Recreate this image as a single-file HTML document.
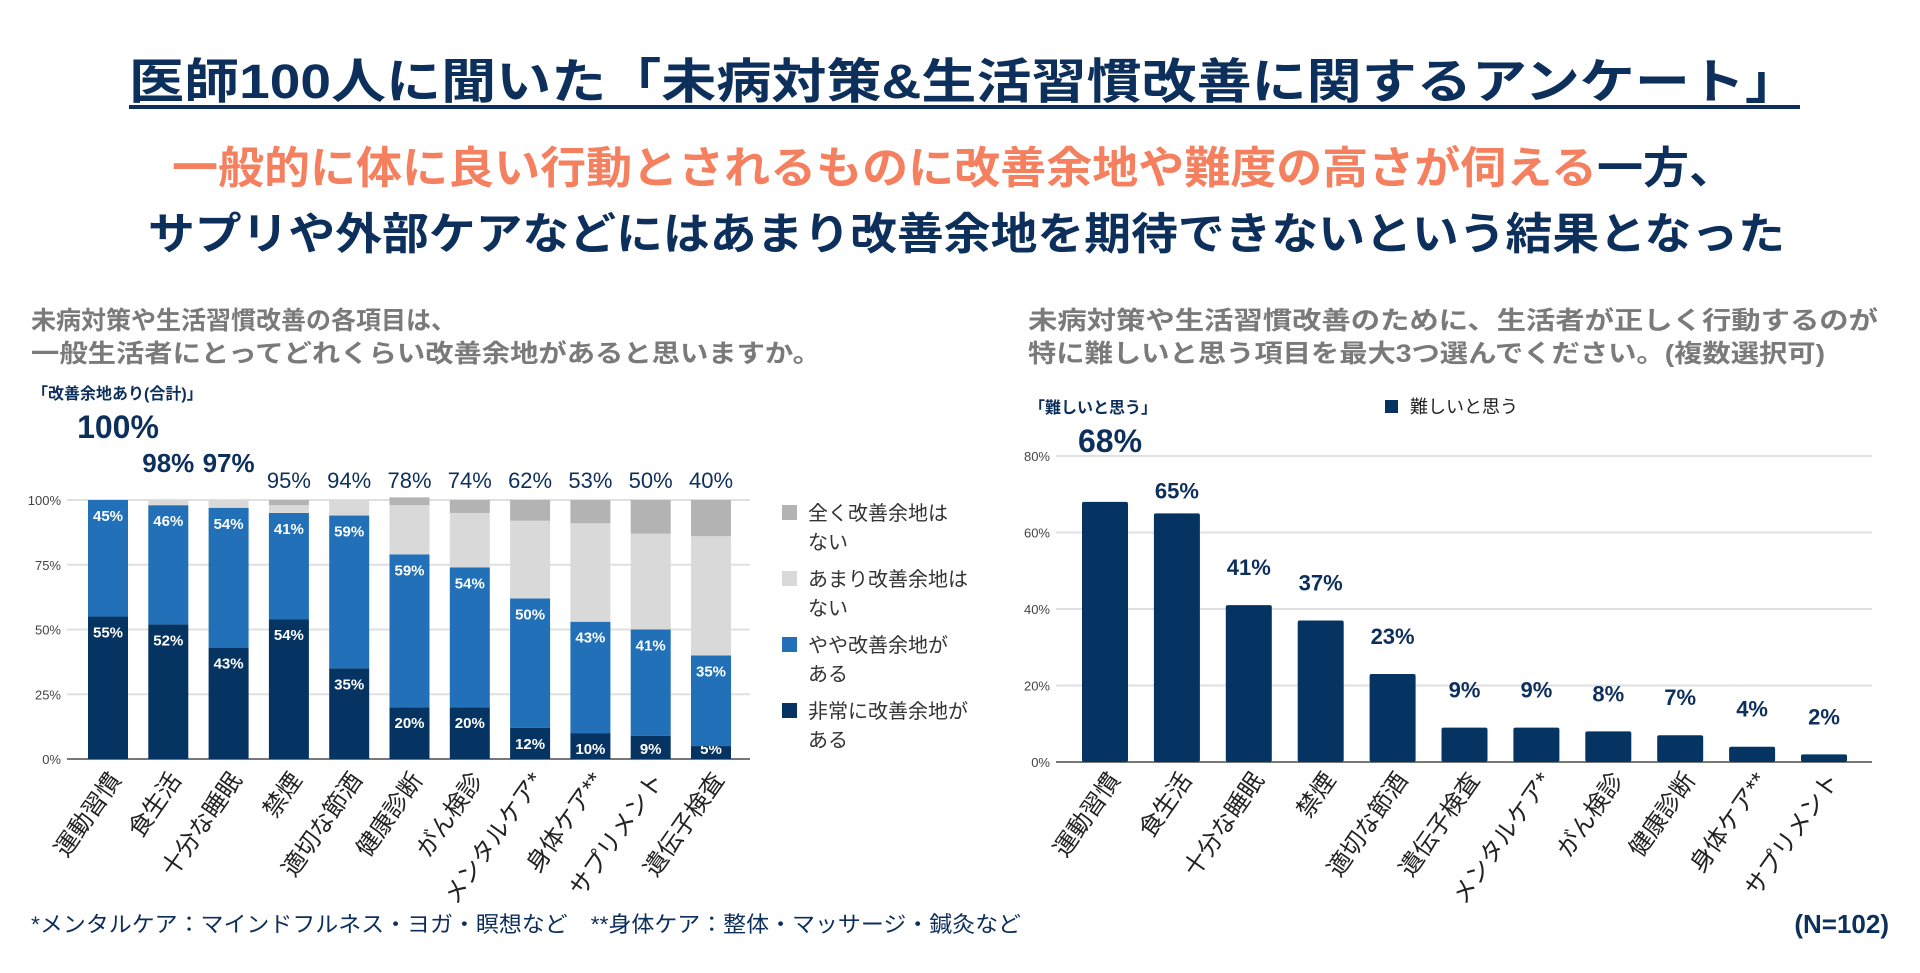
<!DOCTYPE html>
<html><head><meta charset="utf-8"><style>
html,body{margin:0;padding:0;background:#fff;}
svg{display:block;font-family:"Liberation Sans","Noto Sans CJK JP",sans-serif;}
</style></head><body>
<svg id="s" width="1920" height="973" viewBox="0 0 1920 973" xmlns="http://www.w3.org/2000/svg">
<text x="129" y="98" font-size="48" font-weight="700" fill="#0d2f5b" textLength="1671" lengthAdjust="spacingAndGlyphs">医師100人に聞いた「未病対策&amp;生活習慣改善に関するアンケート」</text>
<rect x="129" y="105" width="1671" height="4" fill="#0d2f5b"/>
<text x="172" y="183" font-size="44" font-weight="700" textLength="1563" lengthAdjust="spacingAndGlyphs"><tspan fill="#f4805f">一般的に体に良い行動とされるものに改善余地や難度の高さが伺える</tspan><tspan fill="#0d2f5b">一方、</tspan></text>
<text x="148" y="249" font-size="44" font-weight="700" fill="#0d2f5b" textLength="1637" lengthAdjust="spacingAndGlyphs">サプリや外部ケアなどにはあまり改善余地を期待できないという結果となった</text>
<text x="31" y="329" font-size="25" font-weight="700" fill="#7a7a7a">未病対策や生活習慣改善の各項目は、</text>
<text x="31" y="362" font-size="25" font-weight="700" fill="#7a7a7a" textLength="790" lengthAdjust="spacingAndGlyphs">一般生活者にとってどれくらい改善余地があると思いますか。</text>
<text x="1028" y="329" font-size="25" font-weight="700" fill="#7a7a7a" textLength="850" lengthAdjust="spacingAndGlyphs">未病対策や生活習慣改善のために、生活者が正しく行動するのが</text>
<text x="1028" y="362" font-size="25" font-weight="700" fill="#7a7a7a" textLength="797" lengthAdjust="spacingAndGlyphs">特に難しいと思う項目を最大3つ選んでください。(複数選択可)</text>
<text x="32" y="399" font-size="16" font-weight="700" fill="#0d2f5b">「改善余地あり(合計)」</text>
<text x="1029" y="413" font-size="16" font-weight="700" fill="#0d2f5b">「難しいと思う」</text>
<rect x="1385" y="400" width="13" height="13" fill="#063462"/>
<text x="1410" y="413" font-size="18" fill="#222">難しいと思う</text>
<text x="31" y="932" font-size="22" fill="#0d2f5b" textLength="990" lengthAdjust="spacingAndGlyphs">*メンタルケア：マインドフルネス・ヨガ・瞑想など　**身体ケア：整体・マッサージ・鍼灸など</text>
<text x="1889" y="933" font-size="26" font-weight="700" fill="#0d2f5b" text-anchor="end">(N=102)</text>
<g id="left"></g>
<g id="right"></g>
</svg>
<script>
const leftCats=["運動習慣","食生活","十分な睡眠","禁煙","適切な節酒","健康診断","がん検診","メンタルケア*","身体ケア**","サプリメント","遺伝子検査"];
const veryMuch=[55,52,43,54,35,20,20,12,10,9,5];
const somewhat=[45,46,54,41,59,59,54,50,43,41,35];
const notMuch=[0,2,3,3,6,19,21,30,38,37,46];
const notAtAll=[0,0,0,2,0,3,5,8,9,13,14];
const totals=["100%","98%","97%","95%","94%","78%","74%","62%","53%","50%","40%"];
const leftTicks=[0,25,50,75,100];
const rightCats=["運動習慣","食生活","十分な睡眠","禁煙","適切な節酒","遺伝子検査","メンタルケア*","がん検診","健康診断","身体ケア**","サプリメント"];
const hardVals=[68,65,41,37,23,9,9,8,7,4,2];
const rightTicks=[0,20,40,60,80];
const legendItems=[["全く改善余地は","ない","#b3b3b3"],["あまり改善余地は","ない","#d9d9d9"],["やや改善余地が","ある","#2170b8"],["非常に改善余地が","ある","#063462"]];
const NS="http://www.w3.org/2000/svg";
function mk(p,tag,a,txt){const e=document.createElementNS(NS,tag);for(const k in a)e.setAttribute(k,a[k]);if(txt!=null)e.textContent=txt;p.appendChild(e);return e;}
// left chart
const L=document.getElementById('left');
const ly=v=>759-v*2.59, lx=i=>108+i*60.3;
leftTicks.forEach(t=>{
 const g=mk(L,'line',{x1:67,x2:750,y1:ly(t),y2:ly(t),stroke:t?'#e0e0e0':'#777','stroke-width':2});
 
 
 const tx=mk(L,'text',{x:61,y:ly(t)+5,'font-size':13,fill:'#444','text-anchor':'end'},t+'%');
 
 
});
leftCats.forEach((c,i)=>{
 const segs=[[veryMuch[i],'#063462'],[somewhat[i],'#2170b8'],[notMuch[i],'#d9d9d9'],[notAtAll[i],'#b3b3b3']];
 let acc=0;
 segs.forEach((s,k)=>{
  if(s[0]<=0)return;
  const r=mk(L,'rect',{x:lx(i)-20,width:40,y:ly(acc+s[0]),height:s[0]*2.59,fill:s[1]});
  
  
  if(k<2){
   const yy=Math.min(ly(acc+s[0])+21,ly(acc)-5);
   const t=mk(L,'text',{x:lx(i),y:yy,'font-size':15,'font-weight':700,fill:'#fff','text-anchor':'middle'},s[0]+'%');
   
   
  }
  acc+=s[0];
 });
 const big=i===0,mid=i<3;
 const t=mk(L,'text',{x:lx(i)+(big?10:0),y:big?438:(mid?472:488),'font-size':big?32:(mid?26:22),'font-weight':mid?700:400,fill:'#0d2f5b','text-anchor':'middle'},totals[i]);
 
 
 const cl=mk(L,'text',{x:lx(i)+14,y:780,'font-size':24,fill:'#222','text-anchor':'end',transform:`rotate(-55 ${lx(i)+14} 780)`},c);
 
 
});
legendItems.forEach((it,k)=>{
 const y0=513+k*66;
 const r=mk(L,'rect',{x:782,y:y0-8,width:15,height:15,fill:it[2]});
 
 
 const t1=mk(L,'text',{x:808,y:y0+7,'font-size':20,fill:'#333'},it[0]);
 
 
 const t2=mk(L,'text',{x:808,y:y0+36,'font-size':20,fill:'#333'},it[1]);
 
 
});
// right chart
const R=document.getElementById('right');
const ry=v=>762-v*3.825, rx=i=>1105+i*71.9;
rightTicks.forEach(t=>{
 const g=mk(R,'line',{x1:1056,x2:1872,y1:ry(t),y2:ry(t),stroke:t?'#e0e0e0':'#777','stroke-width':2});
 
 
 const tx=mk(R,'text',{x:1050,y:ry(t)+5,'font-size':13,fill:'#444','text-anchor':'end'},t+'%');
 
 
});
rightCats.forEach((c,i)=>{
 const v=hardVals[i];
 const r=mk(R,'rect',{x:rx(i)-23,width:46,y:ry(v),height:v*3.825,fill:'#063462',rx:2});
 
 
 const big=i===0;
 const off=i===0?50:(i===1?15:30);
 const t=mk(R,'text',{x:rx(i)+(big?5:0),y:ry(v)-off,'font-size':big?32:22,'font-weight':700,fill:'#0d2f5b','text-anchor':'middle'},v+'%');
 
 
 const cl=mk(R,'text',{x:rx(i)+16,y:780,'font-size':24,fill:'#222','text-anchor':'end',transform:`rotate(-55 ${rx(i)+16} 780)`},c);
 
 
});
</script>
</body></html>
